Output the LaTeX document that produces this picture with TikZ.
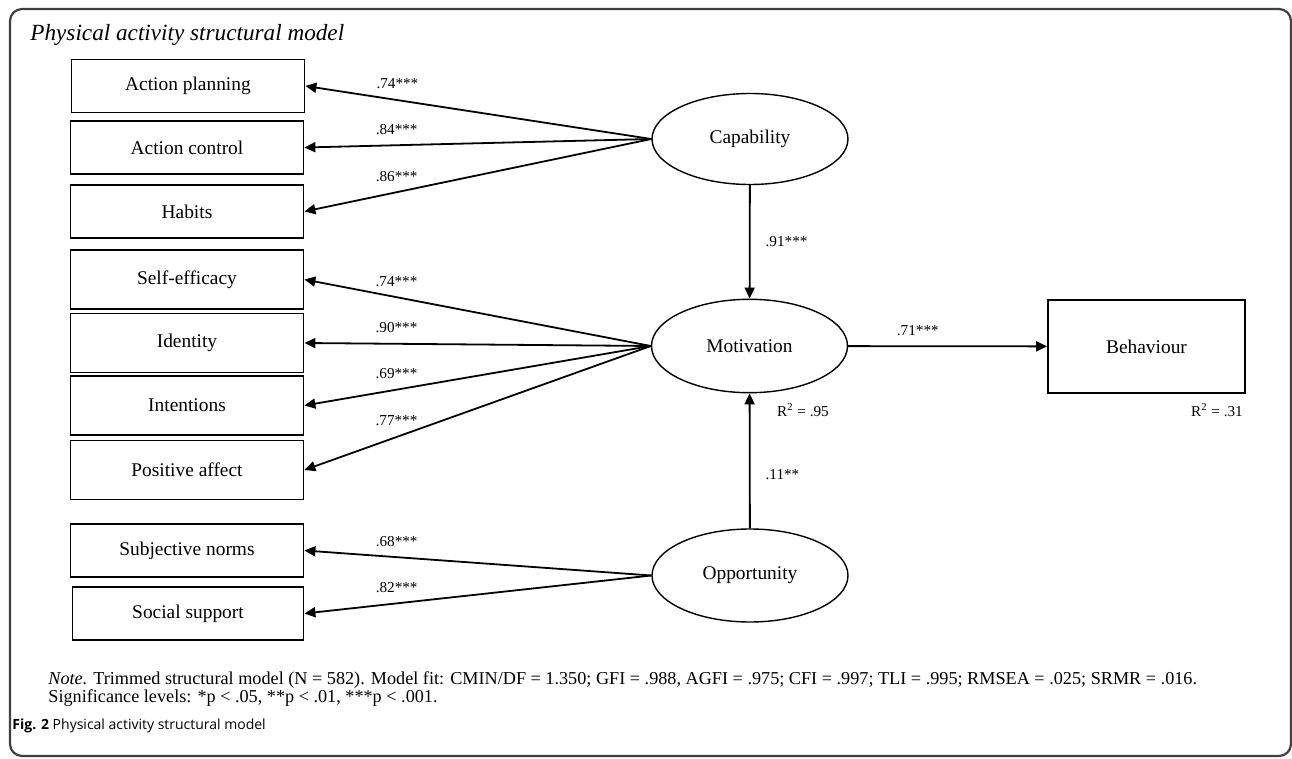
\documentclass[tikz,border=0pt]{standalone}
\usepackage{fontspec}
\setmainfont{Liberation Serif}
\newfontfamily\capfont{Open Sans}
\usetikzlibrary{shapes.geometric,arrows.meta,positioning}

\begin{document}
\begin{tikzpicture}[
    x=0.5pt, y=-0.5pt,
    indicator/.style={rectangle, draw, line width=0.9pt, minimum width=116.5pt, minimum height=26.5pt, inner sep=0pt, font=\fontsize{9.7}{11}\selectfont},
    latent/.style={ellipse, draw, line width=0.7pt, minimum width=98pt, minimum height=45.5pt, inner sep=0pt, font=\fontsize{9.7}{11}\selectfont},
    arrow/.style={-{Triangle[length=5.5pt, width=5pt]}, line width=0.9pt},
    coef/.style={font=\fontsize{7.6}{9}\selectfont, inner sep=1pt}
]
\useasboundingbox (0,0) rectangle (1292,759);

% Frame
\draw[line width=1.1pt, black!75, rounded corners=6pt] (10,9) rectangle (1291,756);
\node[anchor=base west, inner sep=0pt, font=\itshape\fontsize{11.6}{13}\selectfont] (title) at (30,40.7) {Physical activity structural model};

% Indicators
\node[indicator] (ap) at (188,86) {Action planning};
\node[indicator] (ac) at (187,147.5) {Action control};
\node[indicator] (hab) at (187,211.5) {Habits};
\node[indicator, minimum height=29.5pt] (se) at (187,279.5) {Self-efficacy};
\node[indicator, minimum height=29.5pt] (idn) at (187,343) {Identity};
\node[indicator, minimum height=29.5pt] (intn) at (187,405.5) {Intentions};
\node[indicator, minimum height=29.5pt] (pa) at (187,470) {Positive affect};
\node[indicator] (sn) at (187,550.5) {Subjective norms};
\node[indicator, minimum width=115.5pt] (ss) at (188,613.5) {Social support};

% Latent variables
\node[latent] (cap) at (750,139) {Capability};
\node[latent, minimum height=46.7pt] (mot) at (749.5,346) {Motivation};
\node[latent, minimum height=46.5pt] (opp) at (750,575.5) {Opportunity};
\node[indicator, minimum width=98.5pt, minimum height=46.5pt] (beh) at (1146.5,346.5) {Behaviour};

% Loadings
\draw[arrow] (cap.west) -- node[coef, pos=0.734, above=4pt] {.74***} (ap.east);
\draw[arrow] (cap.west) -- node[coef, pos=0.734, above=4pt] {.84***} (ac.east);
\draw[arrow] (cap.west) -- node[coef, pos=0.734, above=4pt] {.86***} (hab.east);
\draw[arrow] (mot.west) -- node[coef, pos=0.734, above=4pt] {.74***} (se.east);
\draw[arrow] (mot.west) -- node[coef, pos=0.734, above=4pt] {.90***} (idn.east);
\draw[arrow] (mot.west) -- node[coef, pos=0.734, above=4pt] {.69***} (intn.east);
\draw[arrow] (mot.west) -- node[coef, pos=0.734, above=4pt] {.77***} (pa.east);
\draw[arrow] (opp.west) -- node[coef, pos=0.734, above=4pt] {.68***} (sn.east);
\draw[arrow] (opp.west) -- node[coef, pos=0.734, above=4pt] {.82***} (ss.east);

% Paths
\draw[arrow] (cap) -- node[coef, right=6.5pt] {.91***} (mot);
\draw[arrow] (opp) -- node[coef, pos=0.4, right=6.5pt] {.11**} (mot);
\draw[arrow] (mot) -- node[coef, pos=0.35, above=4pt] {.71***} (beh);
\node[coef] (r2mot) at (803,410) {R\textsuperscript{2} = .95};
\node[coef] (r2beh) at (1217,410) {R\textsuperscript{2} = .31};

% Notes
\node[anchor=base west, inner sep=0pt, font=\fontsize{9.1}{10}\selectfont] (note) at (48,684) {\textit{Note.} Trimmed structural model (N = 582). Model fit: CMIN/DF = 1.350; GFI = .988, AGFI = .975; CFI = .997; TLI = .995; RMSEA = .025; SRMR = .016.};
\node[anchor=base west, inner sep=0pt, font=\fontsize{9.1}{10}\selectfont] (sig) at (48,702) {Significance levels: *p < .05, **p < .01, ***p < .001.};
\node[anchor=base west, inner sep=0pt, font=\capfont\fontsize{7}{8}\selectfont] (caption) at (12,729) {\textbf{Fig. 2} Physical activity structural model};

\end{tikzpicture}
\end{document}
